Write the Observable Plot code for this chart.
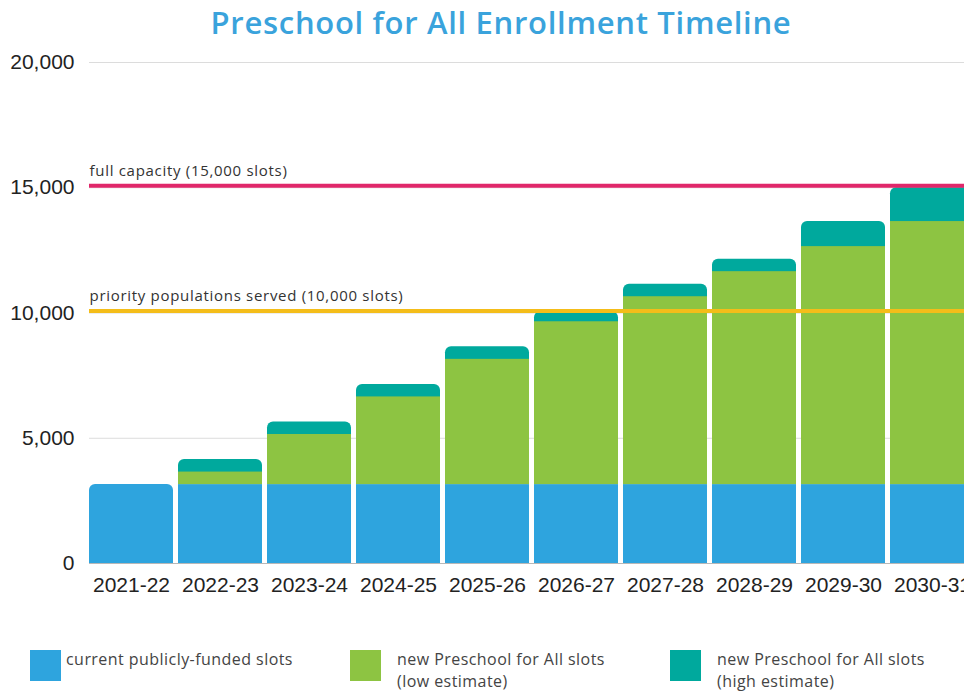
<!DOCTYPE html>
<html>
<head>
<meta charset="utf-8">
<script src="https://cdn.jsdelivr.net/npm/d3@7"></script>
<script src="https://cdn.jsdelivr.net/npm/@observablehq/plot@0.6"></script>
<style>
  html, body { margin: 0; padding: 0; background: #fff; overflow: hidden; width: 964px; height: 692px; }
  #wrap { position: relative; width: 964px; height: 692px; overflow: hidden; }
  #title { position: absolute; top: 0; left: 501px; transform: translateX(-50%); white-space: nowrap;
    font-family: "Open Sans", sans-serif; font-weight: 600; font-size: 31px; letter-spacing: 0.7px; color: #3aa3dc; line-height: 44px; }
  #chart { position: absolute; top: 45px; left: 0; width: 977px; }
  #chart svg { max-width: none !important; }
  #chart svg g[aria-label="text"] text { letter-spacing: 0.7px; }
  .leg { position: absolute; top: 650px; }
  .sw { position: absolute; top: 0; width: 31px; height: 31px; }
  .lt { position: absolute; top: -2px; font-family: "Open Sans", sans-serif; font-size: 16px; letter-spacing: 0.45px; color: #444; line-height: 22px; white-space: nowrap; }
</style>
</head>
<body>
<div id="wrap">
  <div id="title"></div>
  <div id="chart"></div>
  <div id="legend"></div>
</div>
<script>
const titleText = "Preschool for All Enrollment Timeline";
const years = ["2021-22","2022-23","2023-24","2024-25","2025-26","2026-27","2027-28","2028-29","2029-30","2030-31"];
const currentSlots = [3150, 3150, 3150, 3150, 3150, 3150, 3150, 3150, 3150, 3150];
const lowTotal  = [3150, 3650, 5150, 6650, 8150, 9650, 10650, 11650, 12650, 13650];
const highTotal = [3150, 4150, 5650, 7150, 8650, 10050, 11150, 12150, 13650, 15000];
const yTicks = [0, 5000, 10000, 15000, 20000];
const refValues = [15000, 10000];
const refLabels = ["full capacity (15,000 slots)", "priority populations served (10,000 slots)"];
const refColors = ["#e0276a", "#f4bd19"];
const seriesNames = ["current publicly-funded slots", "new Preschool for All slots\n(low estimate)", "new Preschool for All slots\n(high estimate)"];
const seriesColors = ["#2ea4de", "#8dc442", "#00a99d"];

document.getElementById("title").textContent = titleText;

// segments
const segs = [];
years.forEach((yr, i) => {
  segs.push({year: yr, s: 0, y1: 0, y2: currentSlots[i]});
  segs.push({year: yr, s: 1, y1: currentSlots[i], y2: lowTotal[i]});
  segs.push({year: yr, s: 2, y1: lowTotal[i], y2: highTotal[i]});
});
const nonEmpty = segs.filter(d => d.y2 > d.y1);
const topSeg = years.map(yr => {
  const list = nonEmpty.filter(d => d.year === yr);
  return list[list.length - 1];
});
const lowerSegs = nonEmpty.filter(d => !topSeg.includes(d));
const refs = refValues.map((v, i) => ({value: v, label: refLabels[i], color: refColors[i]}));

const chart = Plot.plot({
  width: 977,
  height: 565,
  marginLeft: 86,
  marginRight: 0,
  marginTop: 17,
  marginBottom: 47,
  style: {fontFamily: "'Liberation Sans', Arial, sans-serif", fontSize: "21px", color: "#222", background: "transparent", maxWidth: "none"},
  x: {domain: years, paddingInner: 0.06, paddingOuter: 0.03, label: null, tickSize: 0, tickPadding: 14},
  y: {domain: [0, 20000], ticks: yTicks, tickFormat: d3.format(","), label: null, tickSize: 0, tickPadding: 12},
  marks: [
    Plot.ruleY(yTicks, {stroke: "#dcdcdc", strokeWidth: 1, insetLeft: 3}),
    Plot.barY(topSeg, {x: "year", y1: "y1", y2: "y2", fill: d => seriesColors[d.s], rx: 6, insetBottom: -12, clip: true}),
    Plot.barY(lowerSegs, {x: "year", y1: "y1", y2: "y2", fill: d => seriesColors[d.s]}),
    Plot.ruleY([0], {stroke: "#b8b8b8", strokeWidth: 1, insetLeft: 3}),
    Plot.ruleY(refs, {y: "value", stroke: "color", strokeWidth: 4, dy: -2, insetLeft: 3}),
    Plot.text(refs, {y: "value", text: "label", frameAnchor: "left", textAnchor: "start", dx: 3, dy: -17,
      fontFamily: "'Open Sans', sans-serif", fontSize: 15, fill: "#333"})
  ]
});
document.getElementById("chart").appendChild(chart);

// legend
const legX = [30, 350, 670];
const legend = document.getElementById("legend");
seriesNames.forEach((name, i) => {
  const g = document.createElement("div");
  g.className = "leg";
  g.style.left = legX[i] + "px";
  const sw = document.createElement("div");
  sw.className = "sw";
  sw.style.background = seriesColors[i];
  const lt = document.createElement("div");
  lt.className = "lt";
  lt.style.left = (i === 0 ? 36 : 47) + "px";
  lt.innerHTML = name.split("\n").join("<br>");
  g.appendChild(sw);
  g.appendChild(lt);
  legend.appendChild(g);
});
</script>
</body>
</html>
